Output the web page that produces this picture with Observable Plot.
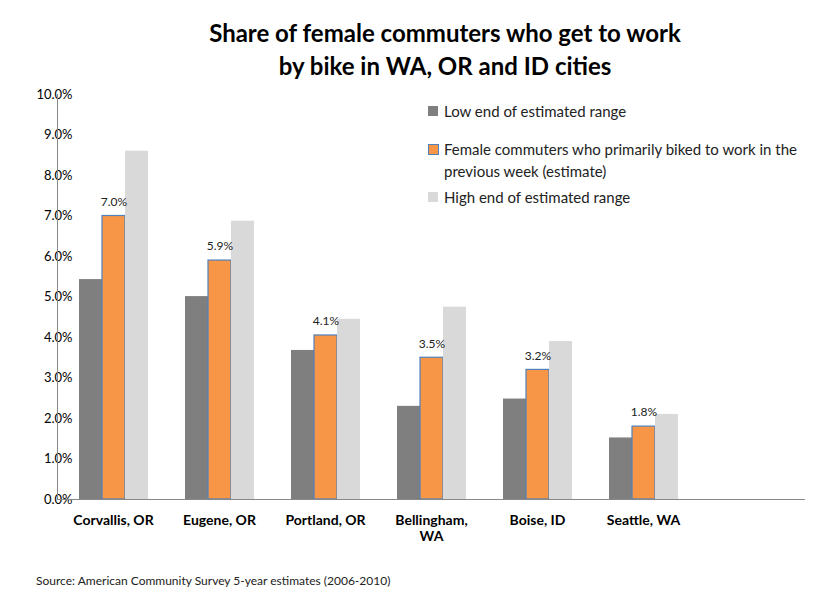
<!DOCTYPE html>
<html><head><meta charset="utf-8">
<script src="https://cdn.jsdelivr.net/npm/d3@7"></script>
<script src="https://cdn.jsdelivr.net/npm/@observablehq/plot@0.6"></script>
<style>
body{margin:0;background:#fff;font-family:Lato,"Open Sans",sans-serif;}
#wrap{position:relative;width:837px;height:600px;}
#chart{position:absolute;left:0;top:0;}
#title{position:absolute;left:0;width:890px;top:16px;text-align:center;font-size:24px;font-weight:bold;line-height:33px;color:#000;}
#legend{position:absolute;left:428px;top:100px;width:410px;font-size:15px;color:#222;line-height:22px;}
.li{position:relative;padding-left:16px;margin-bottom:4px;}
.sw{position:absolute;left:0;top:6px;width:10px;height:10px;}
#src{position:absolute;left:36px;top:573px;font-size:12px;color:#222;}
#vl{position:absolute;left:57px;top:94px;width:1px;height:405px;background:#888;}
#hl{position:absolute;left:57px;top:499px;width:748px;height:1px;background:#888;}
</style></head><body>
<div id="wrap">
<div id="chart"></div>
<div id="vl"></div><div id="hl"></div>
<div id="title">Share of female commuters who get to work<br>by bike in WA, OR and ID cities</div>
<div id="legend">
<div class="li"><span class="sw" style="background:#7f7f7f"></span>Low end of estimated range</div>
<div class="li" style="margin-top:16px"><span class="sw" style="background:#f79646;border:1px solid #4f81bd;width:9px;height:9px"></span>Female commuters who primarily biked to work in the previous week (estimate)</div>
<div class="li"><span class="sw" style="background:#d9d9d9"></span>High end of estimated range</div>
</div>
<div id="src">Source: American Community Survey 5-year estimates (2006-2010)</div>
</div>
<script>
const cities = ["Corvallis, OR","Eugene, OR","Portland, OR","Bellingham,\nWA","Boise, ID","Seattle, WA"];
const low = [5.43, 5.01, 3.68, 2.30, 2.48, 1.52];
const estimate = [7.0, 5.9, 4.05, 3.5, 3.2, 1.8];
const high = [8.6, 6.87, 4.45, 4.75, 3.9, 2.1];
const estLabels = ["7.0%","5.9%","4.1%","3.5%","3.2%","1.8%"];
const yTicks = [0,1,2,3,4,5,6,7,8,9,10];
const series = ["low","est","high"];
const data = [];
cities.forEach((c,i)=>{
  data.push({city:c, s:"low", v:low[i]});
  data.push({city:c, s:"est", v:estimate[i]});
  data.push({city:c, s:"high", v:high[i]});
});
const lab = cities.map((c,i)=>({city:c, s:"est", v:estimate[i], t:estLabels[i]}));
const fxDomain = [...cities, " "];
const chart = Plot.plot({
  width:837, height:600,
  marginTop:94, marginBottom:101, marginLeft:57, marginRight:32,
  style:{fontFamily:"Lato, 'Open Sans', sans-serif", color:"#000"},
  fx:{domain:fxDomain, paddingInner:0.335, paddingOuter:0.1675, label:null, axis:null},
  x:{domain:series, padding:0, axis:null},
  y:{domain:[0,10], ticks:yTicks, tickFormat:d=>d.toFixed(1)+"%", label:null},
  color:{domain:series, range:["#7f7f7f","#f79646","#d9d9d9"]},
  marks:[
    Plot.barY(data,{fx:"city", x:"s", y:"v", fill:"s", stroke:d=>d.s==="est"?"#4f81bd":"none", strokeWidth:1.2, inset:0}),
    Plot.text(lab,{fx:"city", x:"s", y:"v", text:"t", dy:-14, fontSize:12, fill:"#222"}),
    Plot.axisFx({domain:fxDomain, anchor:"bottom", tickSize:0, tickPadding:14, fontSize:14, fontWeight:"bold", label:null, lineHeight:1.15, textAnchor:"middle"}),
    Plot.axisY({ticks:yTicks, tickFormat:d=>d.toFixed(1)+"%", tickSize:0, tickPadding:6, fontSize:13, label:null})
  ]
});
document.getElementById("chart").appendChild(chart);
</script>
</body></html>
